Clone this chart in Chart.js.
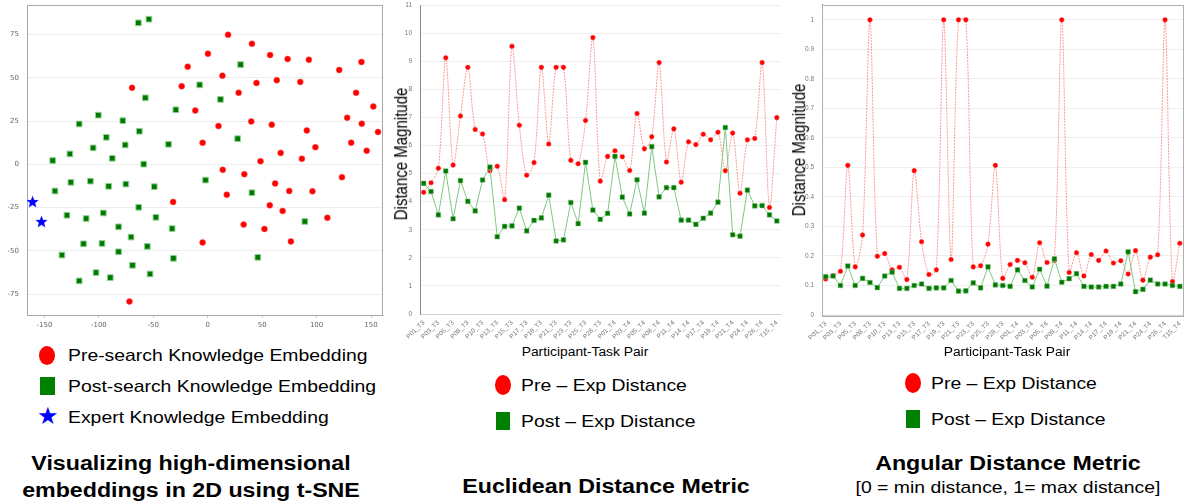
<!DOCTYPE html>
<html>
<head>
<meta charset="utf-8">
<script src="https://cdn.jsdelivr.net/npm/chart.js@4.4.0/dist/chart.umd.min.js"></script>
<style>
  body { margin: 0; background: #fff; width: 1188px; height: 504px; position: relative; overflow: hidden;
         font-family: "Liberation Sans", Arial, sans-serif; color: #000; }
  .panel { position: absolute; top: 0; }
  .t { position: absolute; white-space: nowrap; transform-origin: left center; }
  .c { position: absolute; white-space: nowrap; text-align: center; width: 600px; transform-origin: center center; }
  .ytitle { position: absolute; white-space: nowrap; font-size: 15px;
            transform: translate(-50%, -50%) rotate(-90deg) scaleY(1.28); }
  .glyph { position: absolute; }
</style>
</head>
<body>
<div class="panel" style="left:0;width:388px;height:340px"><canvas id="tsneChart"></canvas></div>
<div class="panel" style="left:385px;width:400px;height:345px"><canvas id="euclidChart"></canvas></div>
<div class="panel" style="left:785px;width:403px;height:345px"><canvas id="angularChart"></canvas></div>

<div class="ytitle" style="left:400px;top:154px">Distance Magnitude</div>
<div class="ytitle" style="left:798px;top:150px">Distance Magnitude</div>

<div class="glyph" style="left:39px;top:346px;width:16px;height:19px;border-radius:50%;background:#ff0000"></div>
<div class="glyph" style="left:40px;top:377px;width:15px;height:18px;background:#008000"></div>
<div class="glyph" style="left:37px;top:402px;font-size:24px;line-height:28px;color:#0000ff;font-family:'DejaVu Sans'">★</div>

<div class="glyph" style="left:495px;top:375px;width:16px;height:20px;border-radius:50%;background:#ff0000"></div>
<div class="glyph" style="left:496px;top:412px;width:14px;height:18px;background:#008000"></div>
<div class="glyph" style="left:905px;top:373px;width:16px;height:20px;border-radius:50%;background:#ff0000"></div>
<div class="glyph" style="left:906px;top:410px;width:14px;height:18px;background:#008000"></div>

<script>
// ---- data ----
const preSearchX = [18.7, 40.6, 0.2, 57.3, 73.4, 92.9, 141.2, 120.8, -18.4, 13.5, -23.9, -69.5, 44.8, 63.4, 85.0, 28.4, 136.3, 152.1, -11.4, 128.1, 9.9, 40.0, 58.8, 141.5, 91.0, 156.4, -4.7, 131.8, 98.9, 146.0, 67.0, 48.5, 86.5, 13.8, 33.6, 123.3, 61.9, 74.9, 96.2, 17.5, -31.8, 57.0, 68.8, 109.9, 33.0, 52.1, -4.7, 76.4, -71.9];
const preSearchY = [74.8, 69.6, 63.9, 63.1, 60.8, 60.4, 59.1, 54.5, 56.4, 51.2, 45.1, 44.2, 47.0, 48.6, 47.6, 41.3, 41.3, 33.4, 31.1, 26.9, 22.1, 24.8, 22.9, 23.5, 19.6, 18.7, 12.4, 12.5, 9.9, 7.8, 6.6, 1.8, 3.2, -3.2, -5.7, -7.4, -11.0, -15.4, -15.6, -17.5, -21.7, -23.7, -26.9, -30.9, -34.8, -37.3, -45.1, -44.5, -79.2];
const postSearchX = [-63.7, -54.0, 30.2, -7.4, -57.3, 11.7, -29.3, -100.5, -118.1, -78.0, -62.8, -93.2, 27.5, -36.0, -75.8, -105.3, -126.6, -87.7, -142.4, -58.8, -2.0, -125.7, -107.8, -75.2, -91.0, -49.1, -140.3, 40.6, -129.3, -111.7, -95.9, -63.4, -47.6, -32.7, -81.9, -70.4, -114.1, -97.1, -55.5, -81.9, -133.9, -31.5, 46.0, 89.2, -69.1, -102.6, -53.0, -89.5, -118.1];
const postSearchY = [81.7, 83.8, 57.6, 45.9, 38.4, 37.5, 31.5, 28.4, 23.3, 25.2, 19.1, 15.6, 14.8, 11.6, 11.2, 9.5, 6.0, 3.5, 2.2, 0.1, -9.1, -10.4, -9.7, -11.4, -12.7, -12.9, -15.4, -16.4, -29.4, -31.3, -28.1, -24.8, -30.6, -37.1, -36.1, -42.0, -45.9, -45.7, -47.4, -50.5, -52.4, -54.3, -53.7, -33.0, -58.3, -62.5, -63.3, -65.4, -67.3];
const expertX = [-160.9, -152.7];
const expertY = [-21.4, -32.9];
const tsneXTicks = [-150, -100, -50, 0, 50, 100, 150];
const tsneYTicks = [-75, -50, -25, 0, 25, 50, 75];

const taskPairs = ['P01_T3','P02_T3','P03_T3','P04_T3','P05_T3','P06_T3','P08_T3','P09_T3','P10_T3','P11_T3',
  'P13_T3','P14_T3','P15_T3','P16_T3','P17_T3','P18_T3','P19_T3','P20_T3','P21_T3','P22_T3',
  'P23_T3','P24_T3','P25_T3','P26_T3','P28_T3','P29_T3','P01_T4','P02_T4','P03_T4','P04_T4',
  'P05_T4','P06_T4','P08_T4','P09_T4','P11_T4','P12_T4','P14_T4','P15_T4','P17_T4','P18_T4',
  'P19_T4','P20_T4','P21_T4','P22_T4','P24_T4','P25_T4','P26_T4','P28_T4','T15_T4'];

const euclidPre = [4.33, 4.67, 5.19, 9.12, 5.30, 7.05, 8.78, 6.57, 6.41, 5.10, 5.26, 4.07, 9.53, 6.72, 4.94, 5.39, 8.78, 6.05, 8.78, 8.78, 5.47, 5.35, 6.89, 9.84, 4.73, 5.61, 5.81, 5.60, 5.11, 7.14, 5.88, 6.31, 8.95, 5.41, 6.59, 4.69, 6.13, 6.03, 6.40, 6.20, 6.47, 5.10, 6.44, 4.30, 6.20, 6.25, 8.95, 3.79, 6.99];
const euclidPost = [4.65, 4.36, 3.53, 5.09, 3.39, 4.75, 4.01, 3.67, 4.77, 5.23, 2.75, 3.12, 3.14, 3.77, 2.96, 3.33, 3.42, 4.23, 2.60, 2.64, 3.97, 3.22, 5.40, 3.70, 3.37, 3.58, 5.61, 4.16, 3.56, 4.78, 3.59, 5.96, 4.17, 4.50, 4.50, 3.34, 3.34, 3.19, 3.41, 3.59, 3.98, 6.64, 2.82, 2.77, 4.41, 3.85, 3.86, 3.53, 3.31];

const angularPre = [0.122, 0.133, 0.148, 0.507, 0.163, 0.271, 1, 0.199, 0.208, 0.153, 0.162, 0.120, 0.489, 0.248, 0.137, 0.153, 1, 0.188, 1, 1, 0.163, 0.167, 0.240, 0.507, 0.124, 0.171, 0.185, 0.177, 0.128, 0.245, 0.178, 0.185, 1, 0.144, 0.211, 0.132, 0.205, 0.185, 0.217, 0.176, 0.184, 0.139, 0.218, 0.118, 0.196, 0.204, 1, 0.113, 0.243];
const angularPost = [0.130, 0.132, 0.100, 0.166, 0.100, 0.124, 0.110, 0.093, 0.132, 0.145, 0.090, 0.090, 0.100, 0.105, 0.090, 0.092, 0.092, 0.117, 0.081, 0.082, 0.109, 0.092, 0.163, 0.102, 0.100, 0.097, 0.153, 0.117, 0.095, 0.155, 0.098, 0.190, 0.111, 0.123, 0.140, 0.097, 0.095, 0.095, 0.097, 0.097, 0.105, 0.214, 0.079, 0.087, 0.118, 0.105, 0.105, 0.100, 0.097];

// ---- helpers ----
function addText(str, x, y, opts) {
  const d = document.createElement('div');
  const size = opts.size || 17;
  d.className = opts.center ? 'c' : 't';
  d.textContent = str;
  d.style.fontSize = size + 'px';
  d.style.lineHeight = Math.round(size * 1.2) + 'px';
  d.style.fontWeight = opts.bold ? 'bold' : 'normal';
  d.style.top = (y - Math.round(size * 1.2) / 2) + 'px';
  d.style.left = (opts.center ? x - 300 : x) + 'px';
  d.style.transform = 'scaleX(' + (opts.sx || 1.14) + ')';
  document.body.appendChild(d);
}

function starImage(size, color) {
  const c = document.createElement('canvas');
  c.width = c.height = size;
  const g = c.getContext('2d');
  g.fillStyle = color;
  g.beginPath();
  for (let i = 0; i < 10; i++) {
    const r = i % 2 ? size * 0.21 : size * 0.5;
    const a = -Math.PI / 2 + i * Math.PI / 5;
    g.lineTo(size / 2 + r * Math.cos(a), size * 0.55 + r * Math.sin(a));
  }
  g.closePath();
  g.fill();
  return c;
}

// thin frame round the plot area (top / right edges in the reference)
const frameBox = {
  id: 'frameBox',
  beforeDatasetsDraw(chart, args, opts) {
    if (!opts.color) return;
    const { ctx, chartArea: a } = chart;
    ctx.save();
    ctx.strokeStyle = opts.color;
    ctx.lineWidth = 1;
    ctx.strokeRect(Math.round(a.left) + 0.5, Math.round(a.top) + 0.5,
      Math.round(a.right - a.left) - 1, Math.round(a.bottom - a.top));
    ctx.restore();
  }
};

// fixed axis sizes, no extra label padding pushed into the layout
const fixY = w => s => { s.width = w; s.paddingTop = 0; s.paddingBottom = 0; };
const fixX = h => s => { s.height = h; s.paddingLeft = 0; s.paddingRight = 0; };

Chart.defaults.animation = false;
Chart.defaults.font.family = "'Liberation Sans', Arial, sans-serif";

// ---- t-SNE scatter ----
const toPoints = (xs, ys) => xs.map((x, i) => ({ x: x, y: ys[i] }));

new Chart(document.getElementById('tsneChart'), {
  type: 'scatter',
  data: {
    datasets: [
      { label: 'Expert Knowledge Embedding', data: toPoints(expertX, expertY),
        pointStyle: starImage(13, '#0000ff'), order: 0 },
      { label: 'Post-search Knowledge Embedding', data: toPoints(postSearchX, postSearchY),
        pointStyle: 'rect', pointRadius: 4, backgroundColor: '#007800', borderColor: '#8fd18f', borderWidth: 1, order: 1 },
      { label: 'Pre-search Knowledge Embedding', data: toPoints(preSearchX, preSearchY),
        pointStyle: 'circle', pointRadius: 3, backgroundColor: '#ff0000', borderColor: '#ff5050', borderWidth: 0.5, order: 2 }
    ]
  },
  options: {
    responsive: true,
    maintainAspectRatio: false,
    layout: { padding: { top: 3, right: 3, left: 0, bottom: 0 } },
    plugins: { legend: { display: false }, tooltip: { enabled: false }, frameBox: { color: '#a8a8a8' } },
    scales: {
      x: {
        min: -166, max: 161,
        ticks: { color: '#666', padding: 3, font: { size: 7, family: "'DejaVu Sans'" }, maxRotation: 0 },
        afterBuildTicks: s => { s.ticks = tsneXTicks.map(v => ({ value: v })); },
        afterFit: fixX(25),
        grid: { display: true, drawOnChartArea: false, color: 'rgba(0,0,0,0)', tickColor: '#c8d2dc', tickLength: 3 },
        border: { color: '#c8d2dc' }
      },
      y: {
        min: -87, max: 92,
        ticks: { color: '#666', padding: 8, font: { size: 7, family: "'DejaVu Sans'" } },
        afterBuildTicks: s => { s.ticks = tsneYTicks.map(v => ({ value: v })); },
        afterFit: fixY(27),
        grid: { color: '#eeeeee', drawTicks: false },
        border: { color: '#888' }
      }
    }
  },
  plugins: [frameBox]
});

// ---- distance line charts ----
function distanceChart(canvasId, pre, post, yMax, step, pad, yWidth, xHeight, frame) {
  const lastTick = Math.floor(yMax / step + 1e-6);
  return new Chart(document.getElementById(canvasId), {
    type: 'line',
    data: {
      labels: taskPairs,
      datasets: [
        { label: 'Post – Exp Distance', data: post, order: 0,
          borderColor: '#80c880', borderWidth: 1, tension: 0,
          pointStyle: 'rect', pointRadius: 3.3, pointBackgroundColor: '#007800', pointBorderColor: '#7fc07f', pointBorderWidth: 0.5 },
        { label: 'Pre – Exp Distance', data: pre, order: 1,
          borderColor: 'rgba(255,70,70,0.55)', borderWidth: 1, borderDash: [2, 1], tension: 0.3,
          pointStyle: 'circle', pointRadius: 2.3, pointBackgroundColor: '#ff0000', pointBorderColor: '#ff3030', pointBorderWidth: 0.5 }
      ]
    },
    options: {
      responsive: true,
      maintainAspectRatio: false,
      layout: { padding: pad },
      plugins: { legend: { display: false }, tooltip: { enabled: false }, frameBox: { color: frame } },
      scales: {
        x: {
          offset: true,
          ticks: {
            autoSkip: false, minRotation: 45, maxRotation: 45, padding: -3, color: '#777',
            font: { size: 6.5 },
            callback: function (v, i) { return i % 2 === 0 ? this.getLabelForValue(v) : ''; }
          },
          afterFit: fixX(xHeight),
          grid: { display: false },
          border: { color: '#c8d0dc' }
        },
        y: {
          min: 0, max: yMax,
          ticks: { stepSize: step, color: '#777', padding: 8, font: { size: 6.5 },
                   callback: v => String(+v.toFixed(2)) },
          afterBuildTicks: s => {
            const vals = [];
            for (let i = 0; i <= lastTick; i++) vals.push({ value: +(i * step).toFixed(4) });
            s.ticks = vals;
          },
          afterFit: fixY(yWidth),
          grid: { color: '#efefef', drawTicks: false },
          border: { color: '#888' }
        }
      }
    },
    plugins: [frameBox]
  });
}

distanceChart('euclidChart', euclidPre, euclidPost, 11, 1, { top: 5, right: 4, left: 0, bottom: 0 }, 35, 31, null);
distanceChart('angularChart', angularPre, angularPost, 1.052, 0.1, { top: 4, right: 3, left: 0, bottom: 0 }, 37, 30, '#b0b0b0');

// ---- legends and captions ----
addText('Pre-search Knowledge Embedding', 68, 356, {});
addText('Post-search Knowledge Embedding', 68, 387, {});
addText('Expert Knowledge Embedding', 68, 418, {});

addText('Participant-Task Pair', 585, 352, { size: 12, center: true, sx: 1.15 });
addText('Pre – Exp Distance', 521, 386, {});
addText('Post – Exp Distance', 521, 422, {});

addText('Participant-Task Pair', 1007, 352, { size: 12, center: true, sx: 1.15 });
addText('Pre – Exp Distance', 931, 384, {});
addText('Post – Exp Distance', 931, 420, {});

addText('Visualizing high-dimensional', 191, 463, { size: 20, bold: true, center: true, sx: 1.16 });
addText('embeddings in 2D using t-SNE', 191, 490, { size: 20, bold: true, center: true, sx: 1.16 });
addText('Euclidean Distance Metric', 606, 486, { size: 20, bold: true, center: true, sx: 1.16 });
addText('Angular Distance Metric', 1008, 463, { size: 20, bold: true, center: true, sx: 1.16 });
addText('[0 = min distance, 1= max distance]', 1008, 488, { size: 17, center: true, sx: 1.14 });
</script>
</body>
</html>
